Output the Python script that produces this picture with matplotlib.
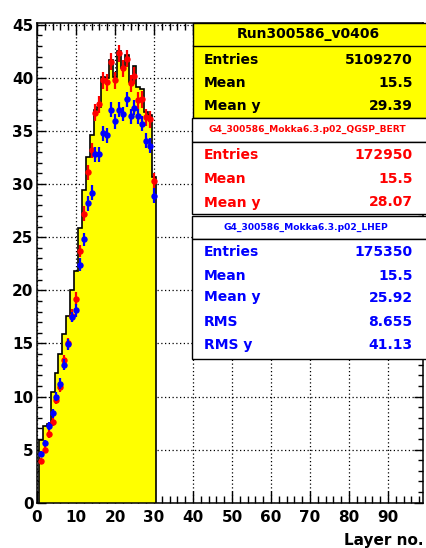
import numpy as np
import matplotlib
matplotlib.use("Agg")
import matplotlib.pyplot as plt
from matplotlib.patches import Rectangle
from matplotlib.ticker import MultipleLocator

# layer profile, data vs two G4 physics lists
layers = np.arange(1, 31)
data_y = [5.9, 7.2, 7.4, 10.4, 12.2, 14.0, 15.9, 17.6, 20.0, 21.8,
          25.9, 29.4, 32.6, 34.6, 37.0, 37.3, 40.1, 40.0, 41.7, 40.1,
          42.5, 40.9, 42.2, 39.6, 41.1, 39.1, 39.0, 36.8, 36.5, 30.7]
qgsp_y = [3.9, 5.0, 6.5, 7.6, 9.7, 10.9, 13.4, 15.0, 17.6, 19.2,
          23.7, 27.2, 31.1, 33.2, 36.7, 37.5, 39.8, 39.6, 41.5, 39.8,
          42.3, 40.9, 41.8, 39.5, 40.2, 37.9, 38.0, 36.3, 36.1, 30.3]
qgsp_err = [0.3, 0.3, 0.4, 0.4, 0.4, 0.5, 0.5, 0.5, 0.6, 0.6,
            0.6, 0.7, 0.7, 0.7, 0.8, 0.8, 0.8, 0.8, 0.8, 0.8,
            0.8, 0.8, 0.8, 0.8, 0.8, 0.8, 0.8, 0.8, 0.8, 0.7]
lhep_y = [4.6, 5.6, 7.2, 8.4, 10.0, 11.2, 13.0, 14.9, 17.5, 18.1,
          22.4, 24.8, 28.2, 29.2, 32.8, 32.8, 34.8, 34.6, 37.0, 35.9,
          37.0, 36.6, 38.0, 36.4, 37.2, 36.4, 35.7, 34.1, 33.6, 28.9]
lhep_err = [0.3, 0.3, 0.4, 0.4, 0.4, 0.5, 0.5, 0.5, 0.5, 0.6,
            0.6, 0.6, 0.7, 0.7, 0.7, 0.7, 0.7, 0.7, 0.7, 0.7,
            0.7, 0.7, 0.7, 0.7, 0.7, 0.7, 0.7, 0.7, 0.7, 0.7]

data_title = "Run300586_v0406"
qgsp_title = "G4_300586_Mokka6.3.p02_QGSP_BERT"
lhep_title = "G4_300586_Mokka6.3.p02_LHEP"
data_stats = [("Entries", "5109270"), ("Mean", "15.5"), ("Mean y", "29.39")]
qgsp_stats = [("Entries", "172950"), ("Mean", "15.5"), ("Mean y", "28.07")]
lhep_stats = [("Entries", "175350"), ("Mean", "15.5"), ("Mean y", "25.92"),
              ("RMS", "8.655"), ("RMS y", "41.13")]

plt.rcParams['font.family'] = ['DejaVu Sans']
plt.rcParams['font.weight'] = 'bold'

W, H = 426, 548
fig = plt.figure(figsize=(W / 100, H / 100), dpi=100)
ax = fig.add_axes([37 / W, (H - 502.7) / H, 386 / W, 480 / H])

edges = np.append(layers - 0.5, layers[-1] + 0.5)
ax.stairs(data_y, edges, baseline=0, fill=True, color='#ffff00', zorder=1)
ax.stairs(data_y, edges, baseline=0, color='black', lw=1.2, zorder=2)

ax.errorbar(layers, qgsp_y, yerr=qgsp_err, xerr=0.5, fmt='o', color='#ff0000',
            ms=3.6, elinewidth=1.6, capsize=0, zorder=3)
ax.errorbar(layers, lhep_y, yerr=lhep_err, xerr=0.5, fmt='o', color='#0000ff',
            ms=3.6, elinewidth=1.6, capsize=0, zorder=4)

ax.set_xlim(0, 99)
ax.set_ylim(0, 45.2)
ax.set_axisbelow(True)
ax.xaxis.set_major_locator(MultipleLocator(10))
ax.xaxis.set_minor_locator(MultipleLocator(2))
ax.yaxis.set_major_locator(MultipleLocator(5))
ax.yaxis.set_minor_locator(MultipleLocator(1))
ax.set_xticks(np.arange(0, 100, 10))
ax.grid(True, which='major', color='black', linestyle=(0, (1, 2)), lw=0.9)
ax.tick_params(which='both', direction='in', top=True, right=True, width=1)
ax.tick_params(axis='x', which='major', length=8.5, pad=5, labelsize=11)
ax.tick_params(axis='x', which='minor', length=5)
ax.tick_params(axis='y', which='major', length=6.5, pad=2.5, labelsize=11)
ax.tick_params(axis='y', which='minor', length=3.5)
for s in ax.spines.values():
    s.set_linewidth(1.1)

fig.text(424 / W, 1 - 540 / H, "Layer no.", ha='right', va='center',
         fontsize=11, fontweight='bold')

# stat boxes drawn in pixel coords on an overlay
ov = fig.add_axes([0, 0, 1, 1], zorder=5)
ov.set_xlim(0, W)
ov.set_ylim(H, 0)
ov.axis('off')


def box(x0, y0, x1, y1, fc):
    ov.add_patch(Rectangle((x0, y0), x1 - x0, y1 - y0, facecolor=fc,
                           edgecolor='black', lw=1))


def rows(stats, ys, col):
    for (lab, val), y in zip(stats, ys):
        ov.text(204, y, lab, ha='left', va='center', color=col, fontsize=10)
        ov.text(412.5, y, val, ha='right', va='center', color=col, fontsize=10)


box(193, 22.7, 427, 117.5, '#ffff00')
ov.plot([193, 427], [46, 46], color='black', lw=1)
ov.text(308, 34, data_title, ha='center', va='center', color='black', fontsize=10)
rows(data_stats, [60, 83, 106], 'black')

box(191.5, 118, 427, 141.5, 'white')
ov.text(307, 129, qgsp_title, ha='center', va='center', color='#ff0000', fontsize=6.6)
box(191.5, 141.5, 427, 214, 'white')
rows(qgsp_stats, [155, 179, 202.5], '#ff0000')

box(191.5, 216, 427, 238.5, 'white')
ov.text(306, 227.5, lhep_title, ha='center', va='center', color='#0000ff', fontsize=6.6)
box(191.5, 238.5, 427, 358.5, 'white')
rows(lhep_stats, [252, 275.5, 297.5, 322.5, 345], '#0000ff')

fig.savefig("out.png", dpi=100)
